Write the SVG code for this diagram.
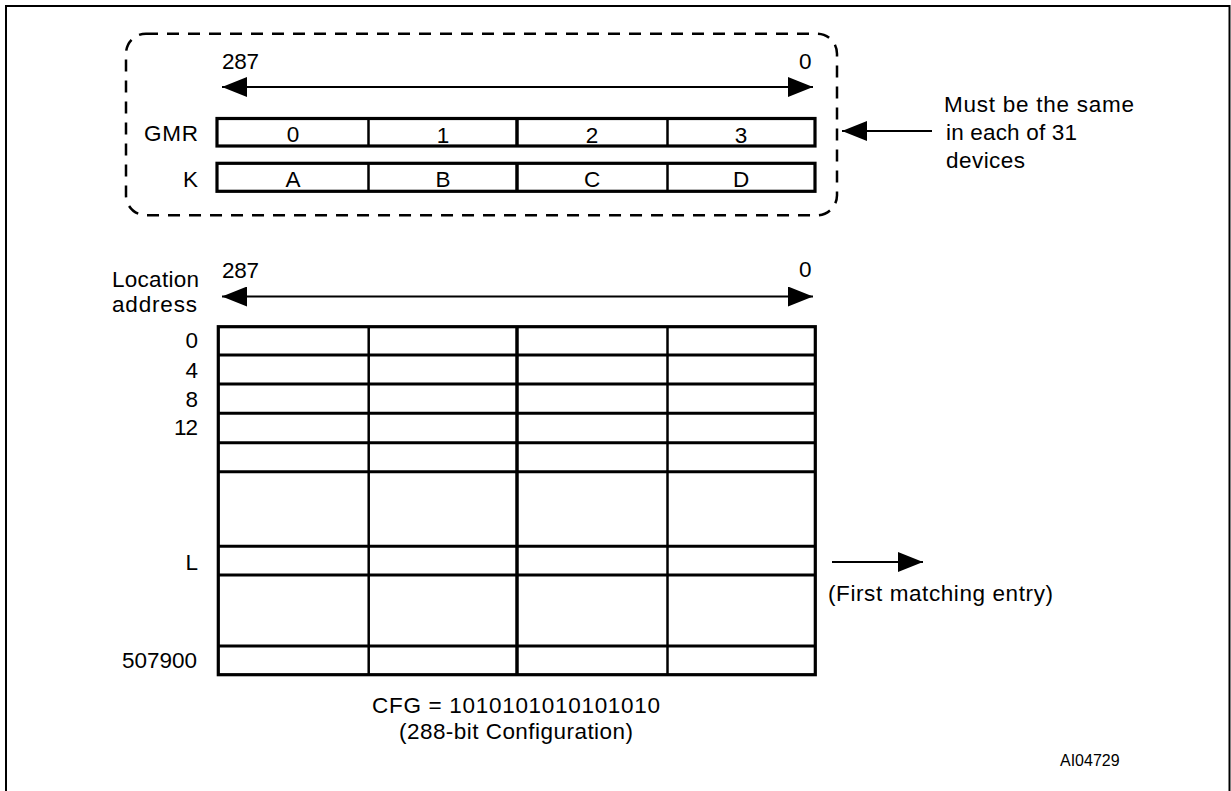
<svg xmlns="http://www.w3.org/2000/svg" width="1231" height="791" viewBox="0 0 1231 791">
  <style>
    .t { font-family: "Liberation Sans", Arial, sans-serif; font-size: 22.5px; fill: #000; }
    .s { font-size: 16px; }
    .e { text-anchor: end; }
    .m { text-anchor: middle; }
    .box { fill: #fff; stroke: #000; stroke-width: 3.2; }
    .hl { stroke: #000; stroke-width: 3; }
    .vl { stroke: #000; stroke-width: 2.5; }
    .vm { stroke: #000; stroke-width: 3.5; }
    .arr { stroke: #000; stroke-width: 2; fill: none; }
  </style>
  <defs>
    <marker id="ah" viewBox="0 0 25 20" refX="25" refY="10" markerWidth="25" markerHeight="20" markerUnits="userSpaceOnUse" orient="auto-start-reverse">
      <path d="M0,0 L25,10 L0,20 Z" fill="#000"/>
    </marker>
  </defs>
  <rect width="1231" height="791" fill="#fff"/>
  <rect id="frame" x="6" y="6" width="1223.5" height="820" fill="none" stroke="#000" stroke-width="2"/>

  <g id="shared-group">
    <rect x="126" y="33.7" width="711" height="181.6" rx="20" ry="20" fill="none" stroke="#000" stroke-width="2.5" stroke-dasharray="12 9"/>
    <text class="t" x="222" y="69" textLength="37">287</text>
    <text class="t" x="799" y="69">0</text>
  </g>

  <g id="gmr-register">
    <text class="t e" x="198" y="141" textLength="54">GMR</text>
    <rect class="box" x="217" y="118.5" width="598" height="27.5"/>
    <line class="vl" x1="368.5" y1="118.5" x2="368.5" y2="146"/>
    <line class="vm" x1="517" y1="118.5" x2="517" y2="146"/>
    <line class="vl" x1="667.5" y1="118.5" x2="667.5" y2="146"/>
    <text class="t m" x="293" y="142">0</text>
    <text class="t m" x="443" y="143">1</text>
    <text class="t m" x="592" y="143">2</text>
    <text class="t m" x="741" y="143">3</text>
  </g>

  <g id="k-register">
    <text class="t e" x="198" y="187">K</text>
    <rect class="box" x="217" y="163.3" width="598" height="28"/>
    <line class="vl" x1="368.5" y1="163.3" x2="368.5" y2="191.3"/>
    <line class="vm" x1="517" y1="163.3" x2="517" y2="191.3"/>
    <line class="vl" x1="667.5" y1="163.3" x2="667.5" y2="191.3"/>
    <text class="t m" x="293" y="187">A</text>
    <text class="t m" x="443" y="187">B</text>
    <text class="t m" x="592" y="187">C</text>
    <text class="t m" x="741" y="187">D</text>
  </g>

  <g id="note">
    <text class="t" x="944" y="112" textLength="190">Must be the same</text>
    <text class="t" x="946" y="140" textLength="131">in each of 31</text>
    <text class="t" x="946" y="168" textLength="79">devices</text>
  </g>

  <g id="memory-table">
    <text class="t e" x="199" y="287" textLength="87">Location</text>
    <text class="t e" x="197" y="312" textLength="85">address</text>
    <text class="t" x="222" y="278" textLength="37">287</text>
    <text class="t" x="799" y="277">0</text>
    <rect class="box" x="218.3" y="326.7" width="597" height="348"/>
    <line class="hl" x1="218.3" y1="355" x2="815.3" y2="355"/>
    <line class="hl" x1="218.3" y1="384" x2="815.3" y2="384"/>
    <line class="hl" x1="218.3" y1="413.3" x2="815.3" y2="413.3"/>
    <line class="hl" x1="218.3" y1="442.7" x2="815.3" y2="442.7"/>
    <line class="hl" x1="218.3" y1="471.7" x2="815.3" y2="471.7"/>
    <line class="hl" x1="218.3" y1="546.3" x2="815.3" y2="546.3"/>
    <line class="hl" x1="218.3" y1="575" x2="815.3" y2="575"/>
    <line class="hl" x1="218.3" y1="646" x2="815.3" y2="646"/>
    <line class="vl" x1="368.7" y1="326.7" x2="368.7" y2="674.7"/>
    <line class="vm" x1="517" y1="326.7" x2="517" y2="674.7"/>
    <line class="vl" x1="667.5" y1="326.7" x2="667.5" y2="674.7"/>
    <text class="t e" x="198" y="348">0</text>
    <text class="t e" x="198" y="378">4</text>
    <text class="t e" x="198" y="407">8</text>
    <text class="t e" x="198" y="435" textLength="24">12</text>
    <text class="t e" x="197" y="668">507900</text>
    <text class="t e" x="198" y="570">L</text>
    <text class="t" x="828" y="601" textLength="225">(First matching entry)</text>
    <text class="t" x="372" y="713" textLength="288">CFG = 1010101010101010</text>
    <text class="t" x="399" y="739" textLength="234">(288-bit Configuration)</text>
  </g>

  <text id="figure-id" class="t s" x="1060" y="766">AI04729</text>

  <g id="connectors">
    <line class="arr" x1="222" y1="87" x2="813" y2="87" marker-start="url(#ah)" marker-end="url(#ah)"/>
    <line class="arr" x1="932" y1="131" x2="842" y2="131" marker-end="url(#ah)"/>
    <line class="arr" x1="222" y1="296.5" x2="813" y2="296.5" marker-start="url(#ah)" marker-end="url(#ah)"/>
    <line class="arr" x1="832" y1="562" x2="923" y2="562" marker-end="url(#ah)"/>
  </g>
</svg>
